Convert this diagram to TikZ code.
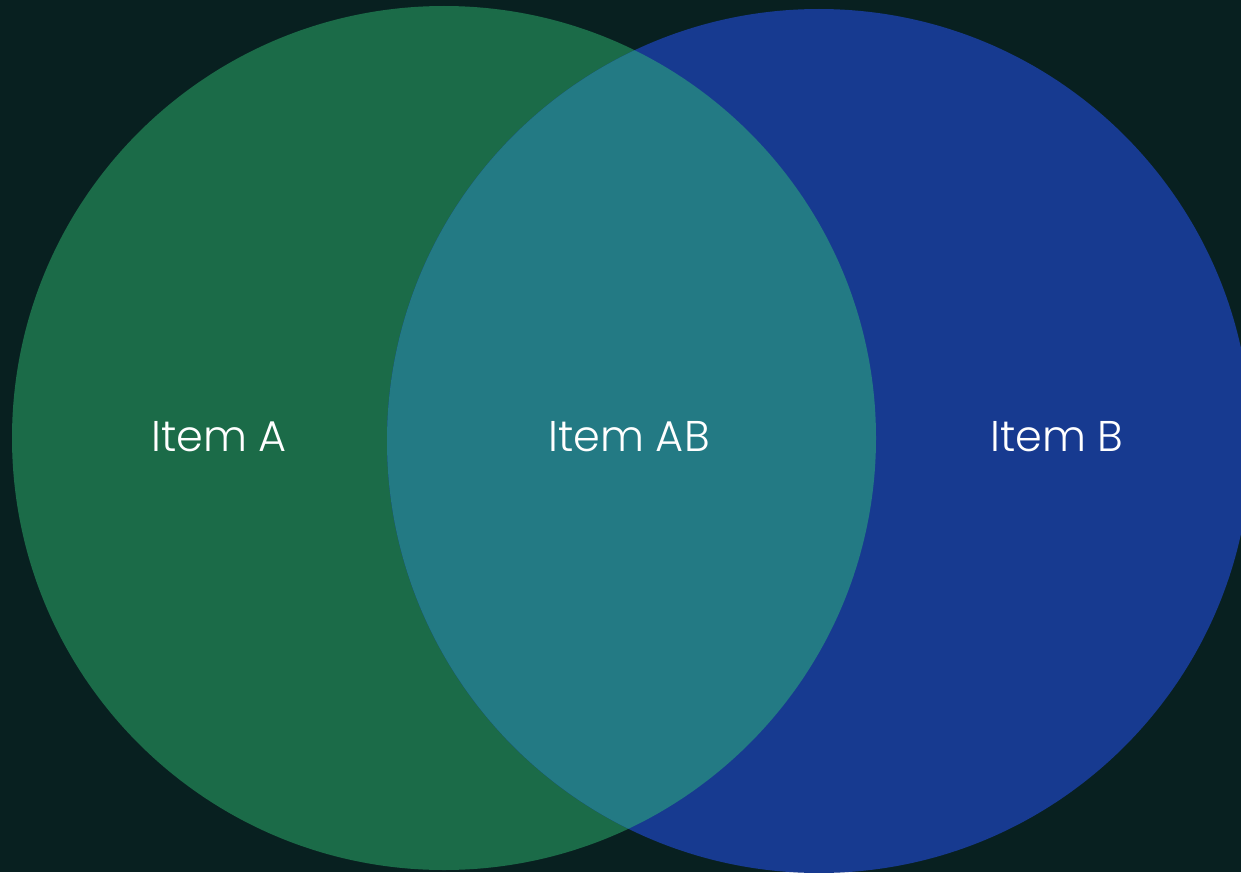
\documentclass[tikz,border=0pt]{standalone}
\usepackage{fontspec}
\setmainfont{Poppins Light}
\definecolor{bgdark}{HTML}{082020}
\definecolor{vgreen}{HTML}{1B6B48}
\definecolor{vblue}{HTML}{173A90}
\definecolor{vteal}{HTML}{237A84}
\tikzset{lbl/.style={text=white,font=\fontsize{43}{50}\selectfont,anchor=center,inner sep=0pt}}
\begin{document}
\begin{tikzpicture}[x=1pt,y=-1pt]
\fill[bgdark] (0,0) rectangle (1241,872);
\useasboundingbox (0,0) rectangle (1241,872);
\coordinate (ca) at (444,438);
\coordinate (cb) at (819,441);
\fill[vgreen] (ca) circle[radius=432pt];
\fill[vblue] (cb) circle[radius=432pt];
\begin{scope}
\clip (ca) circle[radius=432pt];
\fill[vteal] (cb) circle[radius=432pt];
\end{scope}
\node[lbl] (a) at (219,437) {Item A};
\node[lbl] (ab) at (629,437) {Item AB};
\node[lbl] (b) at (1057,437) {Item B};
\end{tikzpicture}
\end{document}
